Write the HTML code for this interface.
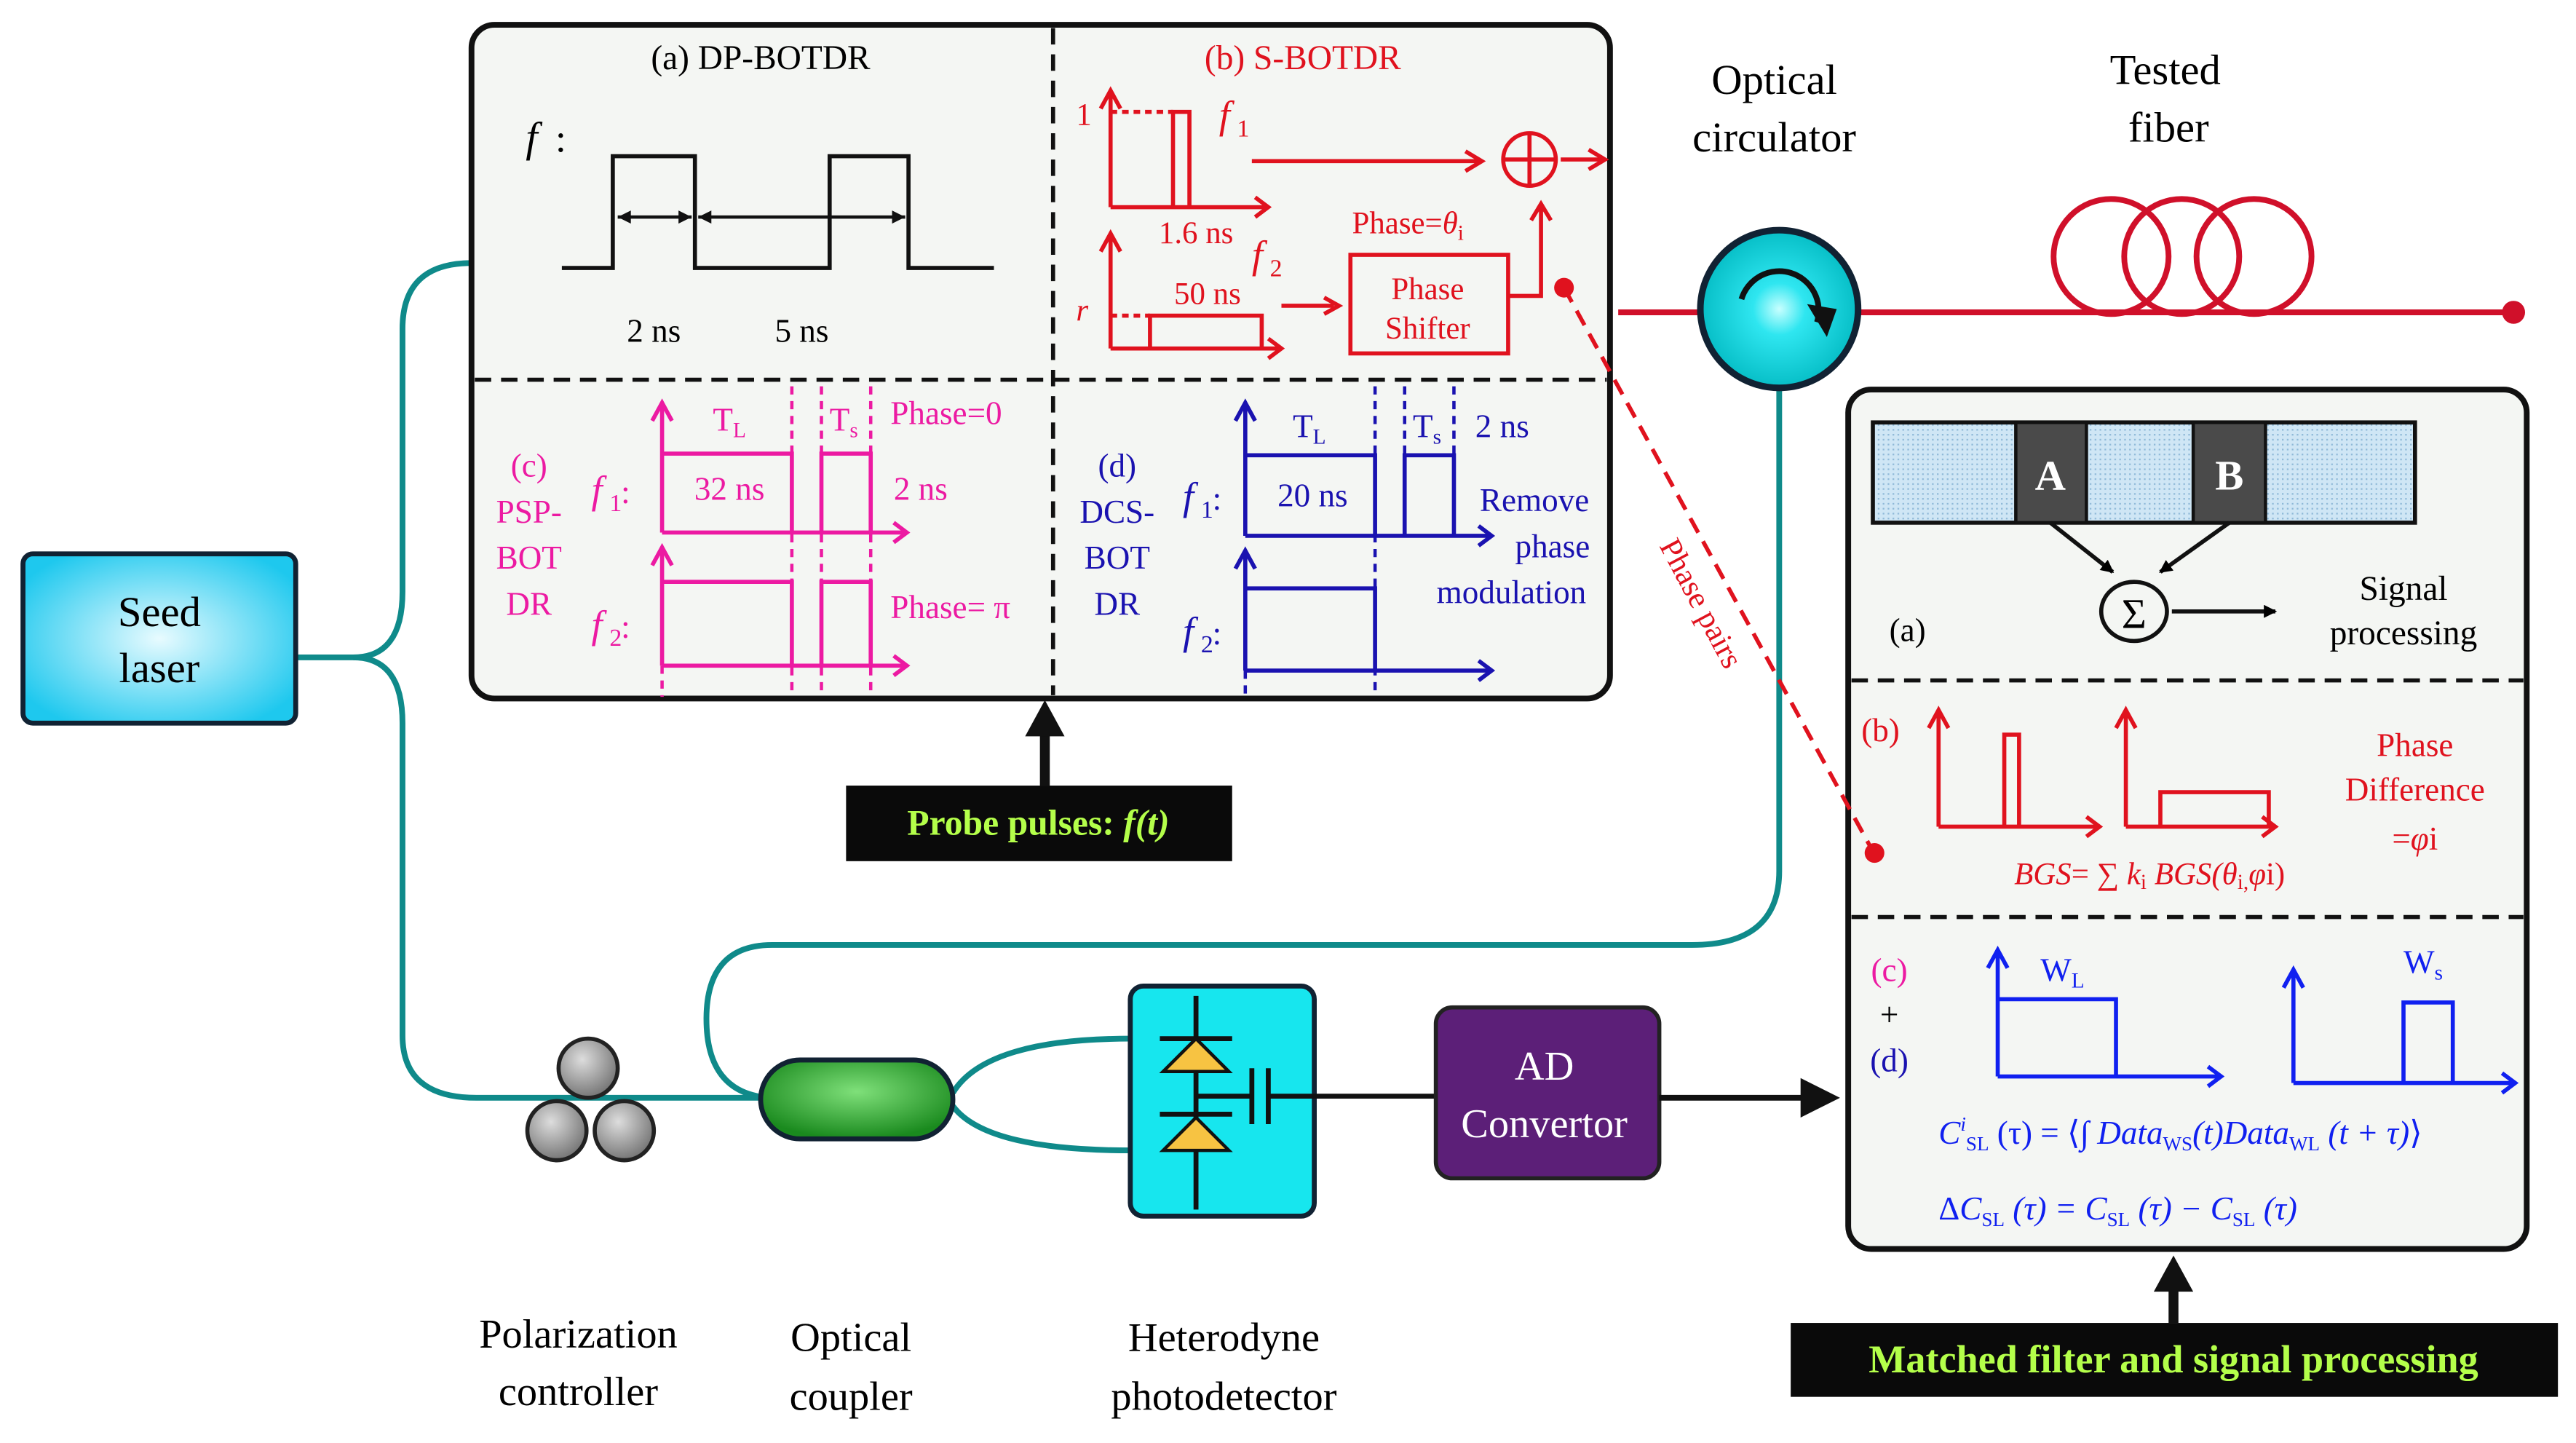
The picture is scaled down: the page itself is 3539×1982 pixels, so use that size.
<!DOCTYPE html>
<html><head><meta charset="utf-8"><style>
html,body{margin:0;padding:0;background:#fff;}
svg{display:block;font-family:"Liberation Serif","Times New Roman",serif;}
svg text{font-family:"Liberation Serif","Times New Roman",serif;}
</style></head><body>
<svg width="3539" height="1982" viewBox="0 0 1568 878" xmlns="http://www.w3.org/2000/svg" font-family="Liberation Serif, serif">
<defs>
<radialGradient id="cy" cx="50%" cy="50%" r="60%"><stop offset="0" stop-color="#e8fbff"/><stop offset="1" stop-color="#1ec8ee"/></radialGradient>
<radialGradient id="cc" cx="50%" cy="50%" r="55%"><stop offset="0" stop-color="#c8ffff"/><stop offset="0.3" stop-color="#2fe6f0"/><stop offset="1" stop-color="#00b8c0"/></radialGradient>
<radialGradient id="gr" cx="50%" cy="40%" r="60%"><stop offset="0" stop-color="#7fe07a"/><stop offset="1" stop-color="#1a8a1e"/></radialGradient>
<radialGradient id="gy" cx="40%" cy="35%" r="65%"><stop offset="0" stop-color="#ddd"/><stop offset="1" stop-color="#777"/></radialGradient>
<pattern id="dots" width="3" height="3" patternUnits="userSpaceOnUse"><rect width="3" height="3" fill="#cfe6f5"/><rect width="1" height="1" fill="#8fb9d8"/></pattern>
<marker id="ak" markerWidth="8" markerHeight="8" refX="7" refY="4" orient="auto" markerUnits="userSpaceOnUse"><path d="M0,0 L8,4 L0,8z" fill="#000"/></marker>
</defs>

<g fill="none" stroke="#0f8a8a" stroke-width="3.5">
<path d="M180,400 H215 Q245,400 245,360 V200 Q245,160 287,160"/>
<path d="M215,400 Q245,400 245,440 V630 Q245,668 290,668 H465"/>
<path d="M1083,236 V530 Q1083,575 1030,575 H470 Q430,575 430,620 Q430,665 468,668"/>
<path d="M580,665 Q600,632 688,632"/>
<path d="M580,673 Q600,700 688,700"/>
</g>

<rect x="14" y="337" width="166" height="103" rx="6" fill="url(#cy)" stroke="#123" stroke-width="3"/>
<text x="97" y="381" font-size="26" text-anchor="middle">Seed</text>
<text x="97" y="415" font-size="26" text-anchor="middle">laser</text>

<rect x="287" y="15" width="693" height="410" rx="14" fill="#f4f6f3" stroke="#111" stroke-width="3.5"/>
<line x1="641" y1="17" x2="641" y2="423" stroke="#111" stroke-width="2.5" stroke-dasharray="10,6"/>
<line x1="289" y1="231" x2="978" y2="231" stroke="#111" stroke-width="2.5" stroke-dasharray="10,6"/>

<text x="463" y="42" font-size="21" text-anchor="middle">(a) DP-BOTDR</text>
<text x="320" y="92" font-size="26" font-style="italic">f</text><text x="338" y="92" font-size="24">:</text>
<path d="M342,163 H373 V95 H423 V163 H505 V95 H553 V163 H605" fill="none" stroke="#111" stroke-width="2.5"/>
<g stroke="#111" stroke-width="2" fill="none"><line x1="376" y1="132" x2="421" y2="132"/><line x1="425" y1="132" x2="551" y2="132"/></g>
<path d="M376,132 l8,-4 v8z M421,132 l-8,-4 v8z M425,132 l8,-4 v8z M551,132 l-8,-4 v8z" fill="#111"/>
<text x="398" y="208" font-size="20" text-anchor="middle">2 ns</text>
<text x="488" y="208" font-size="20" text-anchor="middle">5 ns</text>

<g fill="none" stroke="#e0121e" stroke-width="2.5">
<path d="M676,126 V55 M670,66 L676,55 L682,66"/>
<path d="M676,126 H772 M764,120 L772,126 L764,132"/>
<path d="M714,126 V68 H724 V126"/>
<line x1="676" y1="68" x2="714" y2="68" stroke-dasharray="4,3"/>
<path d="M676,212 V142 M670,153 L676,142 L682,153"/>
<path d="M676,212 H780 M772,206 L780,212 L772,218"/>
<path d="M700,212 V192 H768 V212"/>
<line x1="676" y1="192" x2="700" y2="192" stroke-dasharray="4,3"/>
<path d="M762,98 H900 M892,92 L902,98 L892,104"/>
<path d="M780,186 H812 M806,181 L815,186 L806,191"/>
<rect x="822" y="155" width="96" height="60"/>
<path d="M918,180 H938 V125 M932,134 L938,124 L944,134"/>
<circle cx="931" cy="97" r="16"/><path d="M915,97 H947 M931,81 V113"/>
<path d="M950,97 H975 M967,91 L977,97 L967,103"/>
</g>
<text x="793" y="42" font-size="21" fill="#e0121e" text-anchor="middle">(b) S-BOTDR</text>
<text x="655" y="76" font-size="19" fill="#e0121e">1</text>
<text x="742" y="78" font-size="24" fill="#e0121e" font-style="italic">f</text><text x="753" y="83" font-size="15" fill="#e0121e">1</text>
<text x="728" y="148" font-size="19" fill="#e0121e" text-anchor="middle">1.6 ns</text>
<text x="762" y="163" font-size="24" fill="#e0121e" font-style="italic">f</text><text x="773" y="168" font-size="15" fill="#e0121e">2</text>
<text x="655" y="195" font-size="19" fill="#e0121e" font-style="italic">r</text>
<text x="735" y="185" font-size="19" fill="#e0121e" text-anchor="middle">50 ns</text>
<text x="823" y="142" font-size="19" fill="#e0121e">Phase=<tspan font-style="italic">θ</tspan><tspan font-size="13" dy="4">i</tspan></text>
<text x="869" y="182" font-size="19" fill="#e0121e" text-anchor="middle">Phase</text>
<text x="869" y="206" font-size="19" fill="#e0121e" text-anchor="middle">Shifter</text>

<g fill="none" stroke="#ec1aa2" stroke-width="2.5">
<path d="M403,324 V245 M397,256 L403,245 L409,256"/>
<path d="M403,324 H552 M544,318 L552,324 L544,330"/>
<path d="M403,276 H482 V324 M500,324 V276 H530 V324"/>
<path d="M403,405 V333 M397,344 L403,333 L409,344"/>
<path d="M403,405 H552 M544,399 L552,405 L544,411"/>
<path d="M403,354 H482 V405 M500,405 V354 H530 V405"/>
<g stroke-dasharray="5,4" stroke-width="2"><line x1="403" y1="405" x2="403" y2="424"/><line x1="482" y1="235" x2="482" y2="424"/><line x1="500" y1="235" x2="500" y2="424"/><line x1="530" y1="235" x2="530" y2="424"/></g>
</g>
<g fill="#ec1aa2" font-size="20">
<text x="444" y="262" text-anchor="middle">T<tspan font-size="13" dy="4">L</tspan></text>
<text x="505" y="262">T<tspan font-size="13" dy="4">s</tspan></text>
<text x="542" y="258">Phase=0</text>
<text x="444" y="304" text-anchor="middle">32 ns</text>
<text x="544" y="304">2 ns</text>
<text x="542" y="376">Phase= π</text>
<text x="322" y="290" text-anchor="middle">(c)</text>
<text x="322" y="318" text-anchor="middle">PSP-</text>
<text x="322" y="346" text-anchor="middle">BOT</text>
<text x="322" y="374" text-anchor="middle">DR</text>
<text x="360" y="306" font-size="24" font-style="italic">f</text><text x="371" y="311" font-size="15">1</text><text x="378" y="306">:</text>
<text x="360" y="388" font-size="24" font-style="italic">f</text><text x="371" y="393" font-size="15">2</text><text x="378" y="388">:</text>
</g>

<g fill="none" stroke="#1a12b0" stroke-width="2.5">
<path d="M758,326 V245 M752,256 L758,245 L764,256"/>
<path d="M758,326 H908 M900,320 L908,326 L900,332"/>
<path d="M758,277 H837 V326 M855,326 V277 H885 V326"/>
<path d="M758,408 V335 M752,346 L758,335 L764,346"/>
<path d="M758,408 H908 M900,402 L908,408 L900,414"/>
<path d="M758,358 H837 V408"/>
<g stroke-dasharray="5,4" stroke-width="2"><line x1="758" y1="408" x2="758" y2="424"/><line x1="837" y1="235" x2="837" y2="424"/><line x1="855" y1="235" x2="855" y2="277"/><line x1="885" y1="235" x2="885" y2="277"/></g>
</g>
<g fill="#1a12b0" font-size="20">
<text x="797" y="266" text-anchor="middle">T<tspan font-size="13" dy="4">L</tspan></text>
<text x="860" y="266">T<tspan font-size="13" dy="4">s</tspan></text>
<text x="898" y="266">2 ns</text>
<text x="799" y="308" text-anchor="middle">20 ns</text>
<text x="934" y="311" text-anchor="middle">Remove</text>
<text x="945" y="339" text-anchor="middle">phase</text>
<text x="920" y="367" text-anchor="middle">modulation</text>
<text x="680" y="290" text-anchor="middle">(d)</text>
<text x="680" y="318" text-anchor="middle">DCS-</text>
<text x="680" y="346" text-anchor="middle">BOT</text>
<text x="680" y="374" text-anchor="middle">DR</text>
<text x="720" y="310" font-size="24" font-style="italic">f</text><text x="731" y="315" font-size="15">1</text><text x="738" y="310">:</text>
<text x="720" y="392" font-size="24" font-style="italic">f</text><text x="731" y="397" font-size="15">2</text><text x="738" y="392">:</text>
</g>

<line x1="636" y1="478" x2="636" y2="440" stroke="#111" stroke-width="6"/>
<path d="M624,448 L636,426 L648,448z" fill="#111"/>
<rect x="515" y="478" width="235" height="46" fill="#0a0a0a"/>
<text x="632" y="508" font-size="22" font-weight="bold" fill="#b4ff4a" text-anchor="middle">Probe pulses: <tspan font-style="italic">f(t)</tspan></text>

<line x1="985" y1="190" x2="1530" y2="190" stroke="#d0102a" stroke-width="3.5"/>
<circle cx="1530" cy="190" r="7" fill="#d0102a"/>
<g fill="none" stroke="#d0102a" stroke-width="3.5"><circle cx="1285" cy="156" r="35"/><circle cx="1328" cy="156" r="35"/><circle cx="1372" cy="156" r="35"/></g>
<circle cx="1083" cy="188" r="48" fill="url(#cc)" stroke="#123" stroke-width="4"/>
<path d="M1060,182 A24,24 0 1 1 1106,196" fill="none" stroke="#111" stroke-width="3.5"/>
<path d="M1100,185 L1112,205 L1118,188z" fill="#111"/>
<text x="1080" y="57" font-size="26" text-anchor="middle">Optical</text>
<text x="1080" y="92" font-size="26" text-anchor="middle">circulator</text>
<text x="1318" y="51" font-size="26" text-anchor="middle">Tested</text>
<text x="1320" y="86" font-size="26" text-anchor="middle">fiber</text>

<rect x="1125" y="237" width="413" height="523" rx="14" fill="#f4f6f3" stroke="#111" stroke-width="3.5"/>
<line x1="1127" y1="414" x2="1536" y2="414" stroke="#111" stroke-width="2.5" stroke-dasharray="10,6"/>
<line x1="1127" y1="558" x2="1536" y2="558" stroke="#111" stroke-width="2.5" stroke-dasharray="10,6"/>

<line x1="952" y1="175" x2="1140" y2="518" stroke="#e0121e" stroke-width="2.5" stroke-dasharray="10,6"/>
<circle cx="952" cy="175" r="6" fill="#e0121e"/><circle cx="1141" cy="519" r="6" fill="#e0121e"/>
<text transform="translate(1030,370) rotate(62)" font-size="19" fill="#e0121e" text-anchor="middle">Phase pairs</text>

<rect x="1140" y="257" width="330" height="61" fill="url(#dots)" stroke="#111" stroke-width="2.5"/>
<rect x="1227" y="257" width="43" height="61" fill="#4a4a4a" stroke="#111" stroke-width="2"/>
<rect x="1335" y="257" width="44" height="61" fill="#4a4a4a" stroke="#111" stroke-width="2"/>
<text x="1248" y="298" font-size="26" font-weight="bold" fill="#fff" text-anchor="middle">A</text>
<text x="1357" y="298" font-size="26" font-weight="bold" fill="#fff" text-anchor="middle">B</text>
<g stroke="#111" stroke-width="2.5" fill="none"><line x1="1248" y1="318" x2="1286" y2="348" marker-end="url(#ak)"/><line x1="1357" y1="318" x2="1315" y2="348" marker-end="url(#ak)"/><line x1="1322" y1="372" x2="1385" y2="372" marker-end="url(#ak)"/></g>
<ellipse cx="1299" cy="372" rx="20" ry="18" fill="none" stroke="#111" stroke-width="2.5"/>
<text x="1299" y="382" font-size="26" text-anchor="middle">Σ</text>
<text x="1150" y="390" font-size="20">(a)</text>
<text x="1463" y="365" font-size="21" text-anchor="middle">Signal</text>
<text x="1463" y="392" font-size="21" text-anchor="middle">processing</text>

<g fill="none" stroke="#e0121e" stroke-width="2.5">
<path d="M1180,503 V432 M1174,443 L1180,432 L1186,443 M1180,503 H1278 M1270,497 L1278,503 L1270,509 M1220,503 V447 H1229 V503"/>
<path d="M1294,503 V432 M1288,443 L1294,432 L1300,443 M1294,503 H1385 M1377,497 L1385,503 L1377,509 M1315,503 V482 H1381 V503"/>
</g>
<text x="1133" y="451" font-size="20" fill="#e0121e">(b)</text>
<text x="1470" y="460" font-size="20" fill="#e0121e" text-anchor="middle">Phase</text>
<text x="1470" y="487" font-size="20" fill="#e0121e" text-anchor="middle">Difference</text>
<text x="1470" y="517" font-size="20" fill="#e0121e" text-anchor="middle">=<tspan font-style="italic">φ</tspan>i</text>
<text x="1226" y="538" font-size="19" fill="#e0121e" font-style="italic">BGS<tspan font-style="normal">= ∑ </tspan>k<tspan font-style="normal" font-size="13" dy="3">i</tspan><tspan dy="-3"> BGS(θ</tspan><tspan font-style="normal" font-size="13" dy="3">i,</tspan><tspan dy="-3">φ</tspan><tspan font-style="normal">i)</tspan></text>

<g fill="none" stroke="#1020f0" stroke-width="2.5">
<path d="M1216,655 V578 M1210,589 L1216,578 L1222,589 M1216,655 H1352 M1344,649 L1352,655 L1344,661 M1216,608 H1288 V655"/>
<path d="M1396,659 V590 M1390,601 L1396,590 L1402,601 M1396,659 H1531 M1523,653 L1531,659 L1523,665 M1463,659 V610 H1493 V659"/>
</g>
<text x="1150" y="597" font-size="20" fill="#ec1aa2" text-anchor="middle">(c)</text>
<text x="1150" y="624" font-size="20" text-anchor="middle">+</text>
<text x="1150" y="652" font-size="20" fill="#1a12b0" text-anchor="middle">(d)</text>
<text x="1242" y="597" font-size="20" fill="#1020f0">W<tspan font-size="13" dy="4">L</tspan></text>
<text x="1463" y="592" font-size="20" fill="#1020f0">W<tspan font-size="13" dy="4">s</tspan></text>
<text x="1180" y="696" font-size="20" fill="#1020f0" font-style="italic">C<tspan font-size="12" dy="-8">i</tspan><tspan font-style="normal" font-size="12" dy="12">SL</tspan><tspan font-style="normal" dy="-4"> (τ) = ⟨∫ </tspan>Data<tspan font-size="12" font-style="normal" dy="4">WS</tspan><tspan dy="-4">(t)Data</tspan><tspan font-size="12" font-style="normal" dy="4">WL</tspan><tspan dy="-4"> (t + τ)</tspan><tspan font-style="normal">⟩</tspan></text>
<text x="1180" y="742" font-size="20" fill="#1020f0" font-style="italic"><tspan font-style="normal">Δ</tspan>C<tspan font-style="normal" font-size="12" dy="4">SL</tspan><tspan dy="-4"> (τ) = C</tspan><tspan font-style="normal" font-size="12" dy="4">SL</tspan><tspan dy="-4"> (τ) − C</tspan><tspan font-style="normal" font-size="12" dy="4">SL</tspan><tspan dy="-4"> (τ)</tspan></text>

<line x1="1323" y1="805" x2="1323" y2="780" stroke="#111" stroke-width="6"/>
<path d="M1311,786 L1323,764 L1335,786z" fill="#111"/>
<rect x="1090" y="805" width="467" height="45" fill="#0a0a0a"/>
<text x="1323" y="835" font-size="24" font-weight="bold" fill="#b4ff4a" text-anchor="middle">Matched filter and signal processing</text>

<circle cx="358" cy="650" r="18" fill="url(#gy)" stroke="#222" stroke-width="2.5"/>
<circle cx="339" cy="688" r="18" fill="url(#gy)" stroke="#222" stroke-width="2.5"/>
<circle cx="380" cy="688" r="18" fill="url(#gy)" stroke="#222" stroke-width="2.5"/>

<rect x="463" y="645" width="117" height="48" rx="24" fill="url(#gr)" stroke="#123" stroke-width="3"/>

<rect x="688" y="600" width="112" height="140" rx="8" fill="#17e6ee" stroke="#123" stroke-width="3"/>
<g stroke="#111" stroke-width="3" fill="none"><line x1="728" y1="606" x2="728" y2="736"/><line x1="706" y1="632" x2="750" y2="632"/><line x1="706" y1="678" x2="750" y2="678"/><line x1="728" y1="667" x2="762" y2="667"/><line x1="762" y1="650" x2="762" y2="684"/><line x1="772" y1="650" x2="772" y2="684"/><line x1="772" y1="667" x2="874" y2="667"/></g>
<path d="M708,652 L748,652 L728,632z" fill="#f7c342" stroke="#111" stroke-width="2"/>
<path d="M708,700 L748,700 L728,680z" fill="#f7c342" stroke="#111" stroke-width="2"/>

<rect x="874" y="613" width="136" height="104" rx="10" fill="#5c1f78" stroke="#222" stroke-width="2.5"/>
<text x="940" y="657" font-size="25" fill="#fff" text-anchor="middle">AD</text>
<text x="940" y="692" font-size="25" fill="#fff" text-anchor="middle">Convertor</text>
<line x1="1010" y1="668" x2="1098" y2="668" stroke="#111" stroke-width="3.5"/>
<path d="M1096,656 L1120,668 L1096,680z" fill="#111"/>

<g font-size="25" text-anchor="middle">
<text x="352" y="820">Polarization</text><text x="352" y="855">controller</text>
<text x="518" y="822">Optical</text><text x="518" y="858">coupler</text>
<text x="745" y="822">Heterodyne</text><text x="745" y="858">photodetector</text>
</g>
</svg>
</body></html>
